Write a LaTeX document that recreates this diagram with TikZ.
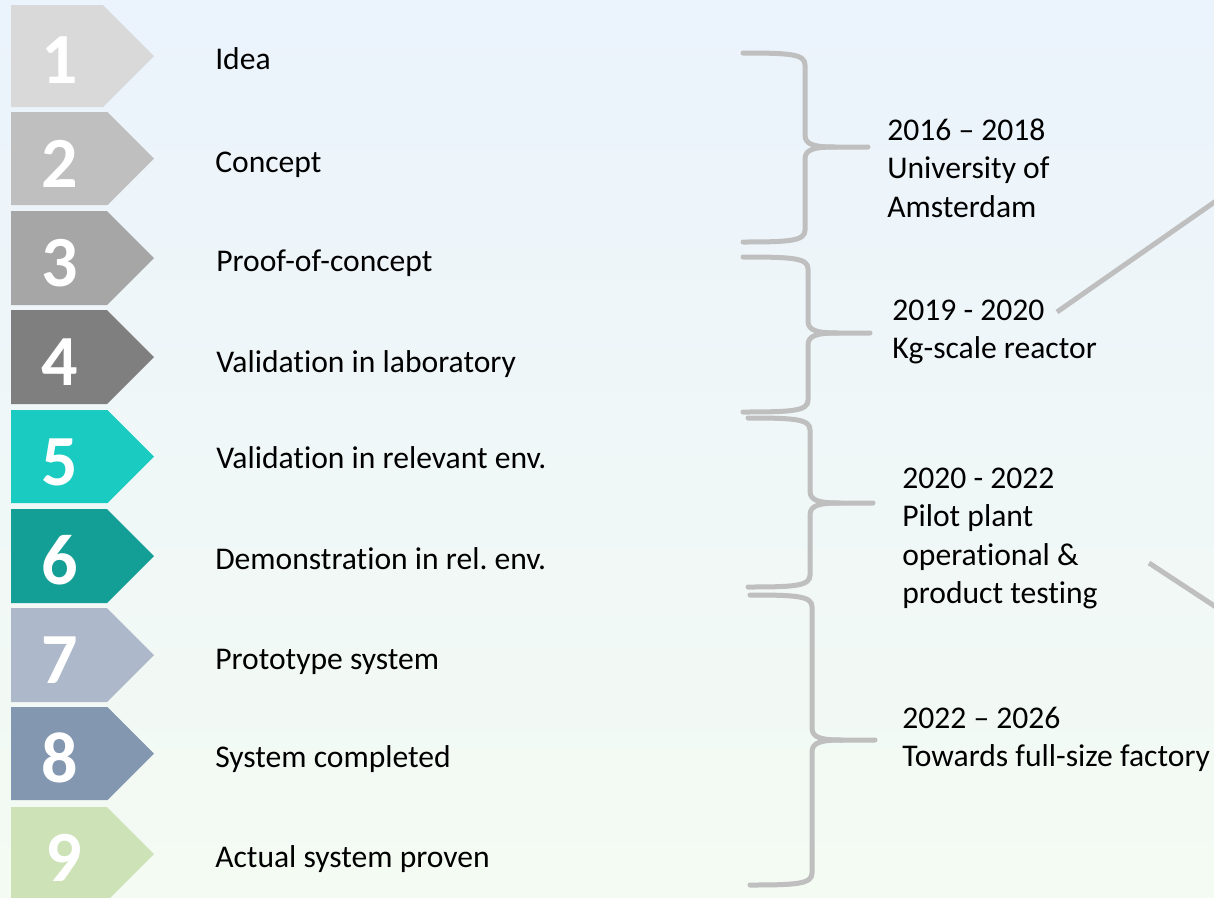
\documentclass[tikz,border=0pt]{standalone}
\usepackage{fontspec}
\setmainfont{Carlito}[Ligatures={NoCommon}]
\frenchspacing
\definecolor{bgtop}{HTML}{EBF3FC}
\definecolor{bgbot}{HTML}{F4FBF3}
\definecolor{c1}{HTML}{D9D9D9}
\definecolor{c2}{HTML}{BFBFBF}
\definecolor{c3}{HTML}{A6A6A6}
\definecolor{c4}{HTML}{7F7F7F}
\definecolor{c5}{HTML}{1ACBC2}
\definecolor{c6}{HTML}{139E96}
\definecolor{c7}{HTML}{ADB9CA}
\definecolor{c8}{HTML}{8497B0}
\definecolor{c9}{HTML}{CDE3B7}
\definecolor{bracegray}{HTML}{BFBFBF}
\newcommand\stepshape[4]{% color, top, bottom, name
  \pgfmathsetmacro\midy{(#2+#3)/2}
  \pgfmathsetmacro\notchx{154-(#3-#2)/2}
  \fill[#1] (11,#2) -- (\notchx,#2) -- (154,\midy) -- (\notchx,#3) -- (11,#3) -- cycle;
}
\newcommand\rbr[6]{% xl, xv, top, mid, bot, xt
  \draw[bracestyle] (#1,#3) .. controls (#2-15,#3) and (#2,#3+1) .. (#2,#3+12)
    -- (#2,#4-12) .. controls (#2,#4-2) and (#2+10,#4) .. (#2+30,#4) -- (#6,#4);
  \draw[bracestyle] (#2+30,#4) .. controls (#2+10,#4) and (#2,#4+2) .. (#2,#4+12)
    -- (#2,#5-12) .. controls (#2,#5-1) and (#2-15,#5) .. (#1,#5);
}
\begin{document}
\begin{tikzpicture}[x=0.75pt,y=-0.75pt,
  num/.style={anchor=base,inner sep=0pt,text=white,font=\fontsize{54}{60}\selectfont\bfseries},
  lbl/.style={anchor=base west,inner sep=0pt,text=black,font=\fontsize{23.7}{28.9}\selectfont},
  bracestyle/.style={draw=bracegray,line width=3.75pt,line cap=round},
  link/.style={draw=bracegray,line width=3.75pt}]
\useasboundingbox (0,0) rectangle (1214,897);
\shade[top color=bgtop,bottom color=bgbot] (0,0) rectangle (1214,897);

\stepshape{c1}{5}{107}{s1}
\stepshape{c2}{112}{205}{s2}
\stepshape{c3}{211}{305}{s3}
\stepshape{c4}{310}{404}{s4}
\stepshape{c5}{410}{503}{s5}
\stepshape{c6}{509}{603}{s6}
\stepshape{c7}{608}{702}{s7}
\stepshape{c8}{707}{800}{s8}
\stepshape{c9}{807}{901}{s9}

\node[num] (n1) at (60,83) {1};
\node[num] (n2) at (60,187) {2};
\node[num] (n3) at (60,286) {3};
\node[num] (n4) at (60,385) {4};
\node[num] (n5) at (60,485) {5};
\node[num] (n6) at (60,584) {6};
\node[num] (n7) at (60,683) {7};
\node[num] (n8) at (60,782) {8};
\node[num] (n9) at (64,881) {9};

\node[lbl] (t1) at (215,69) {Idea};
\node[lbl] (t2) at (215,172) {Concept};
\node[lbl] (t3) at (216,271) {Proof-of-concept};
\node[lbl] (t4) at (216,372) {Validation in laboratory};
\node[lbl] (t5) at (216,468) {Validation in relevant env.};
\node[lbl] (t6) at (215,569) {Demonstration in rel. env.};
\node[lbl] (t7) at (215,669) {Prototype system};
\node[lbl] (t8) at (215,767) {System completed};
\node[lbl] (t9) at (215,867) {Actual system proven};

\rbr{743}{805}{53}{147}{242}{868}
\rbr{743}{808}{257}{333}{412}{870}
\rbr{748}{810}{418}{503}{587}{873}
\rbr{750}{812}{595}{740}{885}{875}

\node[lbl] (a1) at (887,140) {2016 – 2018};
\node[lbl] (a2) at (887,178.5) {University of};
\node[lbl] (a3) at (887,217) {Amsterdam};
\node[lbl] (b1) at (892,320) {2019 - 2020};
\node[lbl] (b2) at (892,358.5) {Kg-scale reactor};
\node[lbl] (c1n) at (902,488) {2020 - 2022};
\node[lbl] (c2n) at (902,526.5) {Pilot plant};
\node[lbl] (c3n) at (902,565) {operational \&};
\node[lbl] (c4n) at (902,603.5) {product testing};
\node[lbl] (d1) at (902,728) {2022 – 2026};
\node[lbl] (d2) at (902,766.5) {Towards full-size factory};

\coordinate (l1a) at (1057,312);
\coordinate (l1b) at (1216,201);
\coordinate (l2a) at (1149,563);
\coordinate (l2b) at (1216,607);
\draw[link] (l1a) -- (l1b);
\draw[link] (l2a) -- (l2b);
\end{tikzpicture}
\end{document}
